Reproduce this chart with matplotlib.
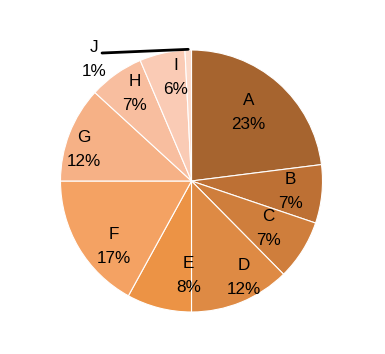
import numpy as np
import matplotlib
matplotlib.use("Agg")
import matplotlib.pyplot as plt

labels = ["A", "B", "C", "D", "E", "F", "G", "H", "I", "J"]
shares = [23.0, 7.2, 7.4, 12.4, 8.0, 17.0, 11.8, 6.8, 5.6, 0.8]
colors = ["#A6642F", "#BD7034", "#CF7E3C", "#DE8A44", "#EC9345",
          "#F4A263", "#F6B186", "#F8BE9F", "#FACBB5", "#FCDBCB"]

# label placement (fraction of radius, degrees clockwise from 12 o'clock)
label_r = [0.68, 0.76, 0.69, 0.84, 0.72, 0.78, 0.86, 0.80, 0.80]
label_ang = [39.6, 96.3, 121.4, 151.8, 181.8, 229.8, 286.5, 327.0, 351.3]

W, H = 385, 354
fig = plt.figure(figsize=(W / 100, H / 100), dpi=100)
R = 131
cx, cy = 191.5, 181
ax = fig.add_axes([(cx - R) / W, (H - cy - R) / H, 2 * R / W, 2 * R / H])

wedges, _ = ax.pie(shares, colors=colors, startangle=90, counterclock=False,
                   radius=1.0, wedgeprops=dict(edgecolor="white", linewidth=0.8))
ax.set_xlim(-1, 1)
ax.set_ylim(-1, 1)
ax.set_aspect("auto")
ax.axis("off")

font = dict(family="Liberation Sans", fontsize=12.3, color="black")
for lab, v, r, a in zip(labels, shares, label_r, label_ang):
    t = np.deg2rad(a)
    ax.text(r * np.sin(t), r * np.cos(t), f"{lab}\n{round(v):.0f}%",
            ha="center", va="center", linespacing=1.75, **font)

# small last slice gets an outside label with a leader line
mid = np.deg2rad(360 * (1 - shares[-1] / 2 / 100))
ax.annotate("", xy=(np.sin(mid), 1.005), xytext=(-0.683, 0.977),
            arrowprops=dict(arrowstyle="-", color="black", lw=2,
                            shrinkA=0, shrinkB=0),
            annotation_clip=False)
ax.text(-0.744, 0.927, f"{labels[-1]}\n{round(shares[-1]):.0f}%",
        ha="center", va="center", linespacing=1.75, **font)

fig.savefig("out.png", dpi=100)
